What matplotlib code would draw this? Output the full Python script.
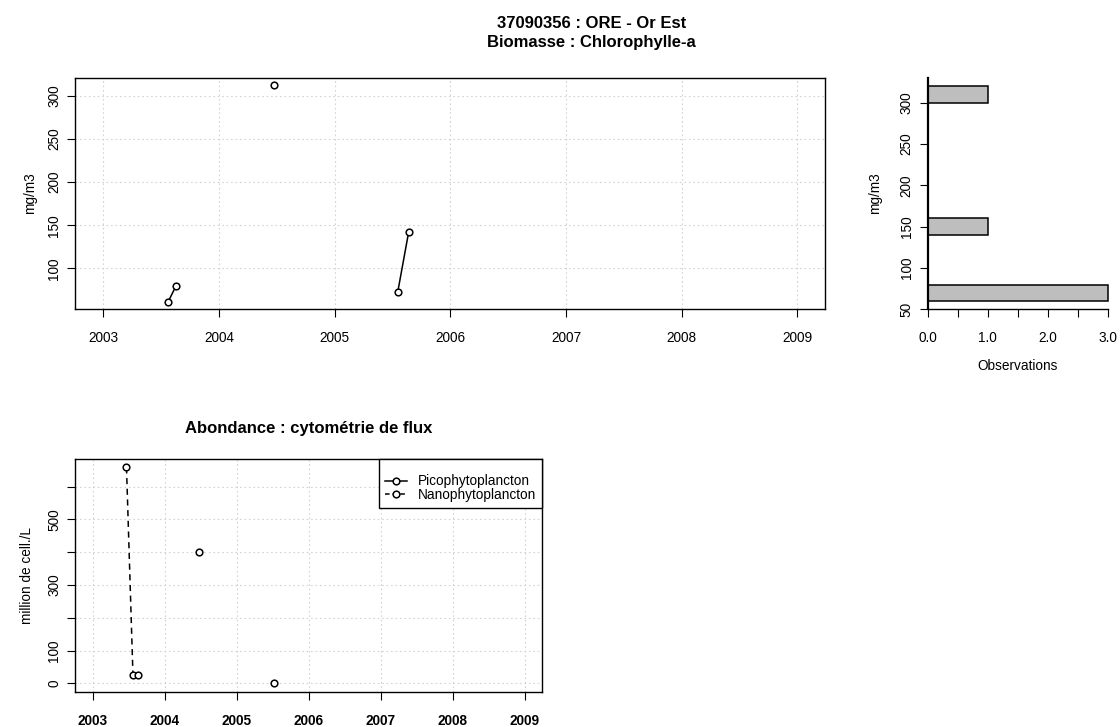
import numpy as np
import matplotlib
matplotlib.use("Agg")
import matplotlib.pyplot as plt
from matplotlib.lines import Line2D

plt.rcParams['font.family'] = ['Liberation Sans', 'DejaVu Sans']

# ---------------- data ----------------
chl_dates = [2003.56, 2003.63, 2004.48, 2005.545, 2005.64]
chl_values = [61, 80, 313, 72, 142]

hist_bin_edges = [60, 80, 100, 120, 140, 160, 180, 200, 220, 240, 260, 280, 300, 320]
hist_counts = [3, 0, 0, 0, 1, 0, 0, 0, 0, 0, 0, 0, 1]

pico_dates = [2004.48, 2005.52]
pico_values = [400, 2]
nano_dates = [2003.47, 2003.56, 2003.63]
nano_values = [659, 25, 25]

year_ticks = [2003, 2004, 2005, 2006, 2007, 2008, 2009]
chl_yticks = [100, 150, 200, 250, 300]
hist_yticks = [50, 100, 150, 200, 250, 300]
hist_xticks = [0.0, 0.5, 1.0, 1.5, 2.0, 2.5, 3.0]
hist_xticklabels = ["0.0", "", "1.0", "", "2.0", "", "3.0"]
cyto_yticks = [0, 100, 200, 300, 400, 500, 600]
cyto_yticklabels = ["0", "100", "", "300", "", "500", ""]

title_line1 = "37090356 : ORE - Or Est"
title_line2 = "Biomasse : Chlorophylle-a"
title_bottom = "Abondance : cytométrie de flux"
unit_chl = "mg/m3"
unit_cyto = "million de cell./L"
label_obs = "Observations"
legend_labels = ["Picophytoplancton", "Nanophytoplancton"]

MAX_GAP = 0.5  # years: points farther apart are not joined

# ---------------- figure ----------------
W, H = 1120, 727
fig = plt.figure(figsize=(W / 100, H / 100), dpi=100)

def px_rect(x0, x1, ytop, ybot):
    return [x0 / W, 1 - ybot / H, (x1 - x0) / W, (ybot - ytop) / H]

FS = 9.8
TFS = 12
GRID = dict(color='#D3D3D3', linestyle=(0, (1.5, 2.5)), linewidth=0.8)

def style_axes(ax, xpad=9.9, ypad=4.5):
    ax.tick_params(direction='out', length=5.5, width=0.8, labelsize=FS)
    ax.tick_params(axis='x', pad=xpad)
    ax.tick_params(axis='y', pad=ypad, labelrotation=90)
    plt.setp(ax.get_yticklabels(), va='center')
    for s in ax.spines.values():
        s.set_linewidth(1.0)

def plot_series(ax, dates, values, dashed=False):
    d = np.asarray(dates, float)
    v = np.asarray(values, float)
    breaks = np.where(np.diff(d) > MAX_GAP)[0] + 1
    for sd, sv in zip(np.split(d, breaks), np.split(v, breaks)):
        ln, = ax.plot(sd, sv, color='black', lw=1.1, marker='o', ms=4.8,
                      mfc='white', mec='black', mew=1.1, zorder=3)
        if dashed:
            ln.set_dashes((4, 3))

# ---- top-left: chlorophyll time series ----
ax1 = fig.add_axes(px_rect(75, 825, 77.7, 309.3))
ax1.set_xlim(2002.755, 2009.24)
ax1.set_ylim(52.4, 321.2)
ax1.set_xticks(year_ticks)
ax1.set_xticklabels([str(y) for y in year_ticks])
ax1.set_yticks(chl_yticks)
ax1.grid(True, **GRID)
ax1.set_axisbelow(True)
plot_series(ax1, chl_dates, chl_values)
style_axes(ax1)

# ---- top-right: histogram ----
ax2 = fig.add_axes(px_rect(927.7, 1107.7, 77.7, 309.3))
ax2.barh(hist_bin_edges[:-1], hist_counts,
         height=np.diff(hist_bin_edges), align='edge',
         color='#BEBEBE', edgecolor='black', linewidth=1.1, clip_on=False)
ax2.set_xlim(0, 3)
ax2.set_ylim(50, 330.3)
ax2.set_xticks(hist_xticks)
ax2.set_xticklabels(hist_xticklabels)
ax2.set_yticks(hist_yticks)
ax2.spines['top'].set_visible(False)
ax2.spines['right'].set_visible(False)
style_axes(ax2)
ax2.spines['left'].set_linewidth(1.6)

# ---- bottom-left: cytometry ----
ax3 = fig.add_axes(px_rect(75, 542, 459, 692.3))
ax3.set_xlim(2002.755, 2009.24)
ax3.set_ylim(-27.5, 684.5)
ax3.set_xticks(year_ticks)
ax3.set_xticklabels([str(y) for y in year_ticks], fontweight='bold')
ax3.set_yticks(cyto_yticks)
ax3.set_yticklabels(cyto_yticklabels)
ax3.grid(True, **GRID)
ax3.set_axisbelow(True)
plot_series(ax3, pico_dates, pico_values)
plot_series(ax3, nano_dates, nano_values, dashed=True)
style_axes(ax3)
for lab in ax3.get_xticklabels():
    lab.set_fontweight('bold')

h_pico = Line2D([], [], color='black', lw=1.1, marker='o', ms=4.8,
                mfc='white', mec='black', mew=1.1)
h_nano = Line2D([], [], color='black', lw=1.1, marker='o', ms=4.8,
                mfc='white', mec='black', mew=1.1, dashes=(3, 2))
leg = ax3.legend([h_pico, h_nano], legend_labels, loc='upper right',
                 bbox_to_anchor=(1, 1), borderaxespad=0, fontsize=FS,
                 title=' ', title_fontsize=7,
                 frameon=True, fancybox=False, framealpha=1, edgecolor='black',
                 handlelength=1.6, handletextpad=0.8, borderpad=0.45,
                 labelspacing=-0.05, numpoints=1)
leg.get_frame().set_linewidth(1.0)

# ---- texts ----
def ftext(x, y, s, **kw):
    fig.text(x / W, 1 - y / H, s, **kw)

ftext(591.4, 23.5, title_line1, ha='center', va='center', fontsize=TFS, fontweight='bold')
ftext(591.4, 43, title_line2, ha='center', va='center', fontsize=TFS, fontweight='bold')
ftext(308.5, 429, title_bottom, ha='center', va='center', fontsize=TFS, fontweight='bold')
ftext(30, 193.5, unit_chl, ha='center', va='center', rotation=90, fontsize=FS)
ftext(875, 193.5, unit_chl, ha='center', va='center', rotation=90, fontsize=FS)
ftext(1017.7, 366, label_obs, ha='center', va='center', fontsize=FS)
ftext(27, 575.7, unit_cyto, ha='center', va='center', rotation=90, fontsize=FS)

fig.savefig("out.png", dpi=100)
